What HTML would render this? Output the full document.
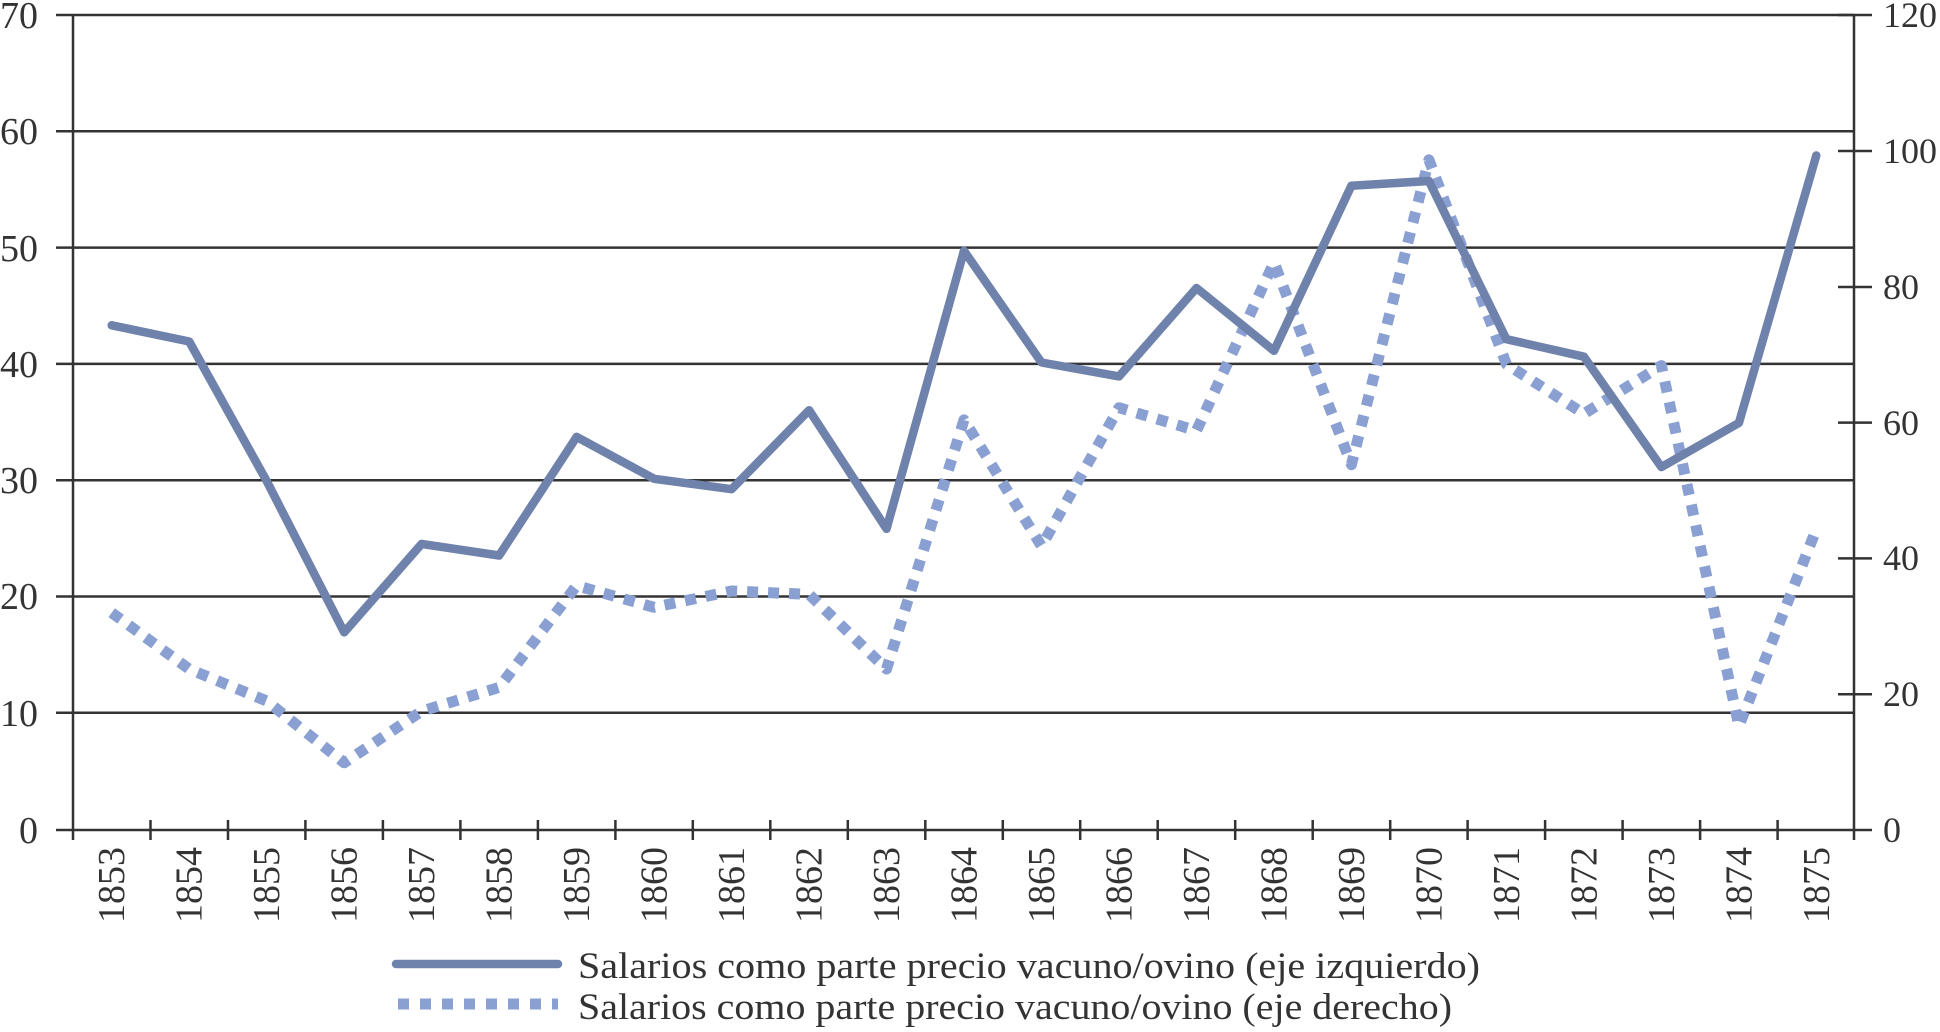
<!DOCTYPE html>
<html><head><meta charset="utf-8"><style>
html,body{margin:0;padding:0;background:#fff;}
svg{display:block;font-family:"Liberation Serif",serif;}
</style></head><body>
<svg width="1940" height="1032" viewBox="0 0 1940 1032" xmlns="http://www.w3.org/2000/svg">
<g stroke="#333" stroke-width="2.5" fill="none">
<line x1="56" y1="15" x2="1854" y2="15"/>
<line x1="56" y1="131.3" x2="1854" y2="131.3"/>
<line x1="56" y1="247.6" x2="1854" y2="247.6"/>
<line x1="56" y1="363.9" x2="1854" y2="363.9"/>
<line x1="56" y1="480.2" x2="1854" y2="480.2"/>
<line x1="56" y1="596.5" x2="1854" y2="596.5"/>
<line x1="56" y1="712.8" x2="1854" y2="712.8"/>
<line x1="56" y1="830" x2="1872" y2="830"/>
<line x1="73" y1="15" x2="73" y2="840"/>
<line x1="1854" y1="15" x2="1854" y2="840"/>
<line x1="1838" y1="15" x2="1872" y2="15"/>
<line x1="1838" y1="151" x2="1872" y2="151"/>
<line x1="1838" y1="287" x2="1872" y2="287"/>
<line x1="1838" y1="422.6" x2="1872" y2="422.6"/>
<line x1="1838" y1="558.4" x2="1872" y2="558.4"/>
<line x1="1838" y1="694.2" x2="1872" y2="694.2"/>
</g>
<g stroke="#333" stroke-width="2.5">
<line x1="150.5" y1="820" x2="150.5" y2="840"/><line x1="228" y1="820" x2="228" y2="840"/><line x1="305.4" y1="820" x2="305.4" y2="840"/><line x1="382.9" y1="820" x2="382.9" y2="840"/><line x1="460.4" y1="820" x2="460.4" y2="840"/><line x1="537.9" y1="820" x2="537.9" y2="840"/><line x1="615.4" y1="820" x2="615.4" y2="840"/><line x1="692.8" y1="820" x2="692.8" y2="840"/><line x1="770.3" y1="820" x2="770.3" y2="840"/><line x1="847.8" y1="820" x2="847.8" y2="840"/><line x1="925.3" y1="820" x2="925.3" y2="840"/><line x1="1002.8" y1="820" x2="1002.8" y2="840"/><line x1="1080.2" y1="820" x2="1080.2" y2="840"/><line x1="1157.7" y1="820" x2="1157.7" y2="840"/><line x1="1235.2" y1="820" x2="1235.2" y2="840"/><line x1="1312.7" y1="820" x2="1312.7" y2="840"/><line x1="1390.2" y1="820" x2="1390.2" y2="840"/><line x1="1467.6" y1="820" x2="1467.6" y2="840"/><line x1="1545.1" y1="820" x2="1545.1" y2="840"/><line x1="1622.6" y1="820" x2="1622.6" y2="840"/><line x1="1700.1" y1="820" x2="1700.1" y2="840"/><line x1="1777.6" y1="820" x2="1777.6" y2="840"/>
</g>
<g font-size="38" fill="#333" text-anchor="end">
<text x="38" y="28">70</text><text x="38" y="144">60</text><text x="38" y="261">50</text><text x="38" y="377">40</text><text x="38" y="493">30</text><text x="38" y="609">20</text><text x="38" y="726">10</text><text x="38" y="843">0</text>
</g>
<g font-size="36" fill="#333" text-anchor="start">
<text x="1883" y="27">120</text><text x="1883" y="163">100</text><text x="1883" y="299">80</text><text x="1883" y="435">60</text><text x="1883" y="570">40</text><text x="1883" y="706">20</text><text x="1883" y="842">0</text>
</g>
<g font-size="38" fill="#333" text-anchor="end">
<text transform="translate(124,847) rotate(-90)">1853</text>
<text transform="translate(201.5,847) rotate(-90)">1854</text>
<text transform="translate(279,847) rotate(-90)">1855</text>
<text transform="translate(356.5,847) rotate(-90)">1856</text>
<text transform="translate(434,847) rotate(-90)">1857</text>
<text transform="translate(511.5,847) rotate(-90)">1858</text>
<text transform="translate(589,847) rotate(-90)">1859</text>
<text transform="translate(666.5,847) rotate(-90)">1860</text>
<text transform="translate(744,847) rotate(-90)">1861</text>
<text transform="translate(821.5,847) rotate(-90)">1862</text>
<text transform="translate(899,847) rotate(-90)">1863</text>
<text transform="translate(976.5,847) rotate(-90)">1864</text>
<text transform="translate(1054,847) rotate(-90)">1865</text>
<text transform="translate(1131.5,847) rotate(-90)">1866</text>
<text transform="translate(1209,847) rotate(-90)">1867</text>
<text transform="translate(1286.5,847) rotate(-90)">1868</text>
<text transform="translate(1364,847) rotate(-90)">1869</text>
<text transform="translate(1441.5,847) rotate(-90)">1870</text>
<text transform="translate(1519,847) rotate(-90)">1871</text>
<text transform="translate(1596.5,847) rotate(-90)">1872</text>
<text transform="translate(1674,847) rotate(-90)">1873</text>
<text transform="translate(1751.5,847) rotate(-90)">1874</text>
<text transform="translate(1829,847) rotate(-90)">1875</text>
</g>
<polyline fill="none" stroke="#8aa0d2" stroke-width="11" stroke-linejoin="round" stroke-dasharray="11 10" points="111.7,612.7 189.2,669.1 266.7,701 344.2,762.8 421.6,711.2 499.1,687.4 576.6,585.6 654.1,607.3 731.6,591 809.1,594.4 886.5,669.1 964,419.9 1041.5,546.2 1119,407.7 1196.5,430.7 1274,262.4 1351.4,464.7 1428.9,159.8 1506.4,364.2 1583.9,413.8 1661.4,365.6 1738.9,726.1 1816.3,529.2"/>
<polyline fill="none" stroke="#6f82ab" stroke-width="8.5" stroke-linejoin="round" stroke-linecap="round" points="111.7,325.3 189.2,341.5 266.7,481.1 344.2,632.3 421.6,543.9 499.1,555.5 576.6,436.9 654.1,478.8 731.6,489.2 809.1,410.2 886.5,528.8 964,250.8 1041.5,362.5 1119,376.4 1196.5,288 1274,350.8 1351.4,185.7 1428.9,181 1506.4,339.2 1583.9,356.7 1661.4,467.1 1738.9,422.9 1816.3,155.5"/>
<line x1="396" y1="964" x2="558" y2="964" stroke="#6f82ab" stroke-width="8.5" stroke-linecap="round"/>
<line x1="398" y1="1004" x2="558" y2="1004" stroke="#8aa0d2" stroke-width="11" stroke-dasharray="11 11"/>
<g font-size="37" fill="#333">
<text x="578" y="978" textLength="902" lengthAdjust="spacingAndGlyphs">Salarios como parte precio vacuno/ovino (eje izquierdo)</text>
<text x="578" y="1019" textLength="874" lengthAdjust="spacingAndGlyphs">Salarios como parte precio vacuno/ovino (eje derecho)</text>
</g>
</svg>
</body></html>
